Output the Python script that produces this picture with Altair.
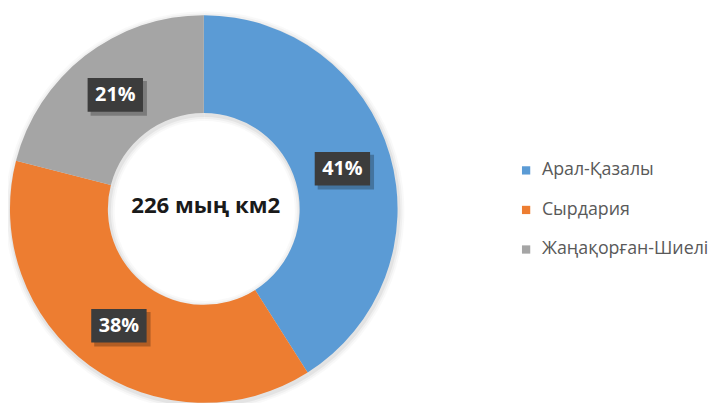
import altair as alt
import pandas as pd

# ---- data ----
regions = ["Арал-Қазалы", "Сырдария", "Жаңақорған-Шиелі"]
shares = [41, 38, 21]
colors = ["#5B9BD5", "#ED7D31", "#A5A5A5"]
center_label = ["226 мың км2"]

df = pd.DataFrame({"region": regions, "share": shares, "idx": list(range(len(regions)))})
df["pct"] = df["share"].astype(str) + "%"
center_df = pd.DataFrame({"t": center_label})

# ---- geometry (pixels) ----
CX, CY = 198, 201
R_OUT, R_IN, R_LAB = 196, 97, 146
BW, BH = 28, 17

color_scale = alt.Scale(domain=regions, range=colors)

base = alt.Chart(df)

# subtle shadow around ring
shadows = []
for dr, op in [(6, 0.025), (4, 0.035), (2, 0.05)]:
    shadows.append(
        base.mark_arc(outerRadius=R_OUT + dr, innerRadius=R_IN - dr, color="#000000", opacity=op)
        .encode(theta=alt.Theta("share:Q", stack=True), x=alt.value(CX + 1), y=alt.value(CY + 2))
    )

ring = base.mark_arc(outerRadius=R_OUT, innerRadius=R_IN, stroke=None).encode(
    theta=alt.Theta("share:Q", stack=True),
    order=alt.Order("idx:Q"),
    color=alt.Color(
        "region:N",
        scale=color_scale,
        sort=regions,
        legend=alt.Legend(
            title=None,
            orient="none",
            legendX=515,
            legendY=153,
            symbolType="square",
            symbolSize=70,
            symbolStrokeWidth=0,
            labelFontSize=18,
            labelFont="Open Sans",
            labelColor="#595959",
            labelOffset=7,
            rowPadding=22,
            padding=0,
            labelLimit=300,
        ),
    ),
    x=alt.value(CX),
    y=alt.value(CY),
)

pos = (
    base.transform_joinaggregate(total="sum(share)")
    .transform_window(cum="sum(share)", sort=[alt.SortField("idx")])
    .transform_calculate(mid="(datum.cum - datum.share/2) / datum.total * 2 * PI")
    .transform_calculate(
        lx=f"{CX} + {R_LAB} * sin(datum.mid)",
        ly=f"{CY} - {R_LAB} * cos(datum.mid)",
    )
    .transform_calculate(
        x0=f"datum.lx - {BW}", x1=f"datum.lx + {BW}",
        y0=f"datum.ly - {BH}", y1=f"datum.ly + {BH}",
        sx0=f"datum.lx - {BW} + 3", sx1=f"datum.lx + {BW} + 4",
        sy0=f"datum.ly - {BH} + 3", sy1=f"datum.ly + {BH} + 4",
    )
)

box_shadow = pos.mark_rect(color="#000000", opacity=0.25).encode(
    x=alt.X("sx0:Q", scale=None), x2="sx1:Q",
    y=alt.Y("sy0:Q", scale=None), y2="sy1:Q",
)
box = pos.mark_rect(color="#3c3c3c").encode(
    x=alt.X("x0:Q", scale=None), x2="x1:Q",
    y=alt.Y("y0:Q", scale=None), y2="y1:Q",
)
labels = pos.mark_text(
    color="white", font="Open Sans", fontWeight="bold", fontSize=20, baseline="middle", align="center"
).encode(
    x=alt.X("lx:Q", scale=None),
    y=alt.Y("ly:Q", scale=None),
    text="pct:N",
)

center = alt.Chart(center_df).mark_text(
    font="Open Sans", fontWeight="bold", fontSize=22.5, color="#1a1a1a", baseline="middle", align="center"
).encode(x=alt.value(CX + 2), y=alt.value(CY - 3), text="t:N")

chart = (
    alt.layer(*shadows, ring, box_shadow, box, labels, center)
    .properties(width=711, height=395, padding=0, autosize=alt.AutoSizeParams(type="none"), background="white")
    .configure_view(stroke=None)
)

chart.save("out.html", embed_options={"renderer": "svg", "actions": False})
